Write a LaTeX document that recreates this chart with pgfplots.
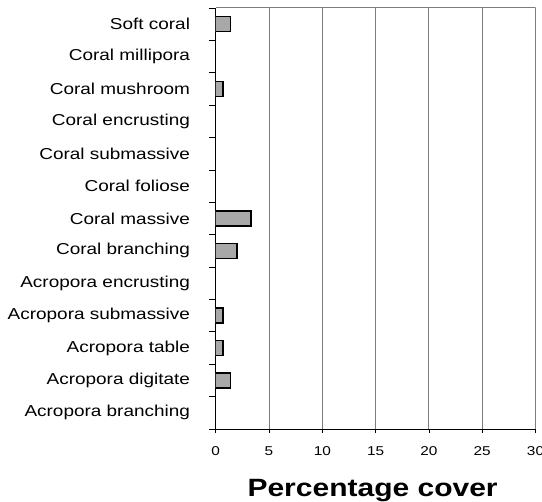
\documentclass[border=0pt]{standalone}
\usepackage{fontspec}
\setmainfont{Liberation Sans}[FakeStretch=1.2]
\usepackage{pgfplots}
\usepackage{pgfplotstable}
\pgfplotsset{compat=1.18}

% index 0 = bottom row (Acropora branching), 12 = top row (Soft coral)
\pgfplotstableread{
idx cover
0  0
1  1.4
2  0.7
3  0.7
4  0
5  2.0
6  3.3
7  0
8  0
9  0
10 0.7
11 0
12 1.4
}\covertable

\definecolor{barfill}{RGB}{168,168,168}
\definecolor{gridgray}{RGB}{125,125,125}

\begin{document}
\begin{tikzpicture}
    \path[use as bounding box] (0,0) rectangle (542bp,502bp);
    \begin{axis}[
            at={(215.7bp,73bp)},
            anchor=south west,
            scale only axis,
            width=319.8bp,
            height=421bp,
            xbar,
            bar width=15bp,
            xmin=0, xmax=30,
            ymin=-0.5, ymax=12.5,
            axis x line*=bottom,
            axis y line*=left,
            axis line style={black, line width=0.9bp},
            xtick={0,5,...,30},
            ytick={0,...,12},
            yticklabels={Acropora branching, Acropora digitate, Acropora table,
                Acropora submassive, Acropora encrusting, Coral branching,
                Coral massive, Coral foliose, Coral submassive, Coral encrusting,
                Coral mushroom, Coral millipora, Soft coral},
            minor ytick={-0.5,0.5,...,12.5},
            xmajorgrids,
            major grid style={gridgray, line width=1bp},
            tick align=outside,
            major x tick style={black, line width=0.8bp},
            major y tick style={draw=none},
            minor y tick style={black, line width=0.8bp},
            major tick length=4bp,
            minor tick length=7bp,
            /pgf/number format/assume math mode=true,
            xticklabel style={font=\fontsize{12.8bp}{14bp}\selectfont, anchor=north, inner sep=0pt, yshift=-13bp},
            yticklabel style={font=\fontsize{15.8bp}{17bp}\selectfont, anchor=east, inner sep=0pt, xshift=-21.5bp},
            xlabel={Percentage cover},
            xlabel style={font=\fontsize{25bp}{28bp}\selectfont\bfseries,
                at={(axis description cs:0.5,0)}, anchor=north, inner sep=0pt,
                yshift=-50bp, xshift=-3bp},
            x filter/.expression={x==0 ? nan : x},
        ]
        \addplot[draw=black, line width=1.4bp, fill=barfill] table[x=cover, y=idx] {\covertable};
        \draw[gridgray, line width=1bp] (rel axis cs:0,1) -- (rel axis cs:1,1);
    \end{axis}
\end{tikzpicture}
\end{document}
